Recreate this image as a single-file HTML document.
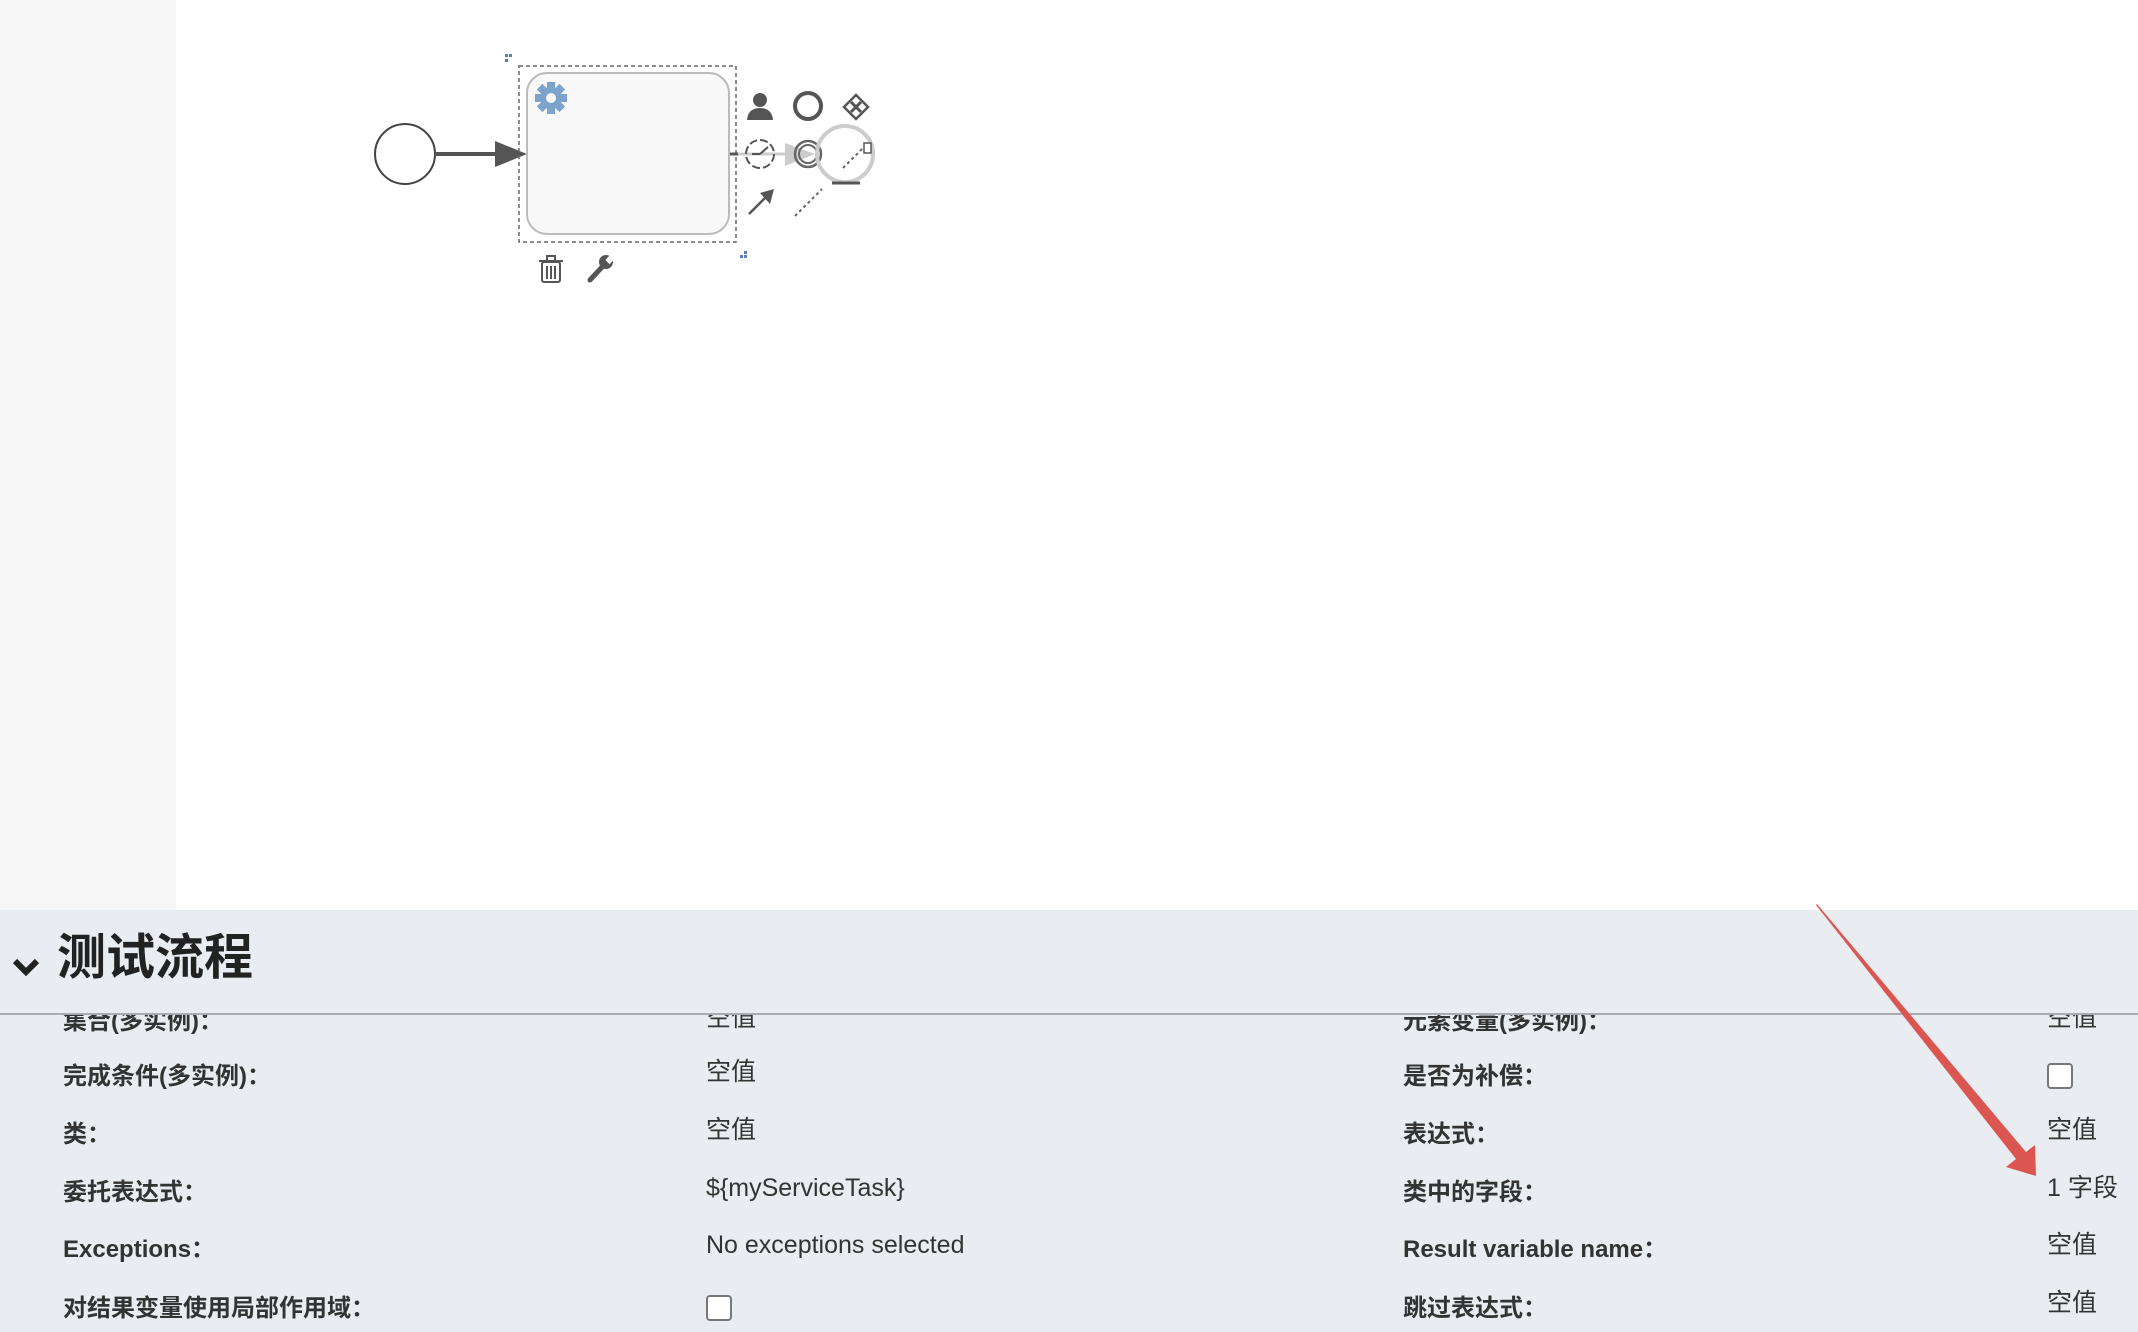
<!DOCTYPE html>
<html><head><meta charset="utf-8"><style>
html,body{margin:0;padding:0;width:2138px;height:1332px;overflow:hidden;background:#fff;position:relative}
body{font-family:"Liberation Sans","Noto Sans CJK SC",sans-serif;}
.side{position:absolute;left:0;top:0;width:176px;height:910px;background:#f6f6f6}
.panel{position:absolute;left:0;top:910px;width:2138px;height:422px;background:#e9ecf1}
.hdr{position:absolute;left:57px;top:928px;font-size:49px;font-weight:bold;color:#222;line-height:60px}
.line{position:absolute;left:0;top:1013px;width:2138px;height:2px;background:#a8abb4}
.body{position:absolute;left:0;top:1015px;width:2138px;height:317px;overflow:hidden}
.l{position:absolute;font-size:24px;font-weight:bold;color:#333;line-height:30px;white-space:nowrap}
.v{position:absolute;font-size:25px;color:#333;line-height:30px;white-space:nowrap}
.cb{position:absolute;width:22px;height:22px;border:2px solid #777;border-radius:4px;background:#fff}
</style></head><body>
<div class="side"></div>
<svg style="position:absolute;left:0;top:0" width="2138" height="910">
<circle cx="405" cy="154" r="30" fill="#fff" stroke="#444" stroke-width="2"/>
<line x1="435" y1="154" x2="498" y2="154" stroke="#555" stroke-width="4"/>
<polygon points="495,141 527,154 495,167" fill="#555"/>
<rect x="527" y="73" width="202" height="161" rx="20" fill="#f8f8f8" stroke="#bbb" stroke-width="2"/>
<rect x="519" y="66" width="217" height="176" fill="none" stroke="#666" stroke-width="1.5" stroke-dasharray="4,3"/>
<g transform="translate(551,98)" fill="#7ba3cb">
<circle r="11"/>
<g><rect x="-4" y="-16" width="8" height="32"/><rect x="-4" y="-16" width="8" height="32" transform="rotate(45)"/><rect x="-4" y="-16" width="8" height="32" transform="rotate(90)"/><rect x="-4" y="-16" width="8" height="32" transform="rotate(135)"/></g>
<circle r="5" fill="#f8f8f8"/></g>
<g fill="#5b7fb5"><rect x="505" y="54" width="3" height="3"/><rect x="509" y="54" width="3" height="3"/><rect x="505" y="59" width="3" height="3"/><rect x="744" y="251" width="3" height="3"/><rect x="744" y="255" width="3" height="3"/><rect x="740" y="255" width="3" height="3"/></g>
<g stroke="#555" fill="none" stroke-width="2"><rect x="542" y="262" width="18" height="20" rx="2"/><line x1="539" y1="261" x2="563" y2="261"/><rect x="547" y="256" width="8" height="5"/><line x1="547" y1="266" x2="547" y2="279"/><line x1="551" y1="266" x2="551" y2="279"/><line x1="555" y1="266" x2="555" y2="279"/></g>
<g stroke="#555" stroke-width="5" stroke-linecap="round"><line x1="590" y1="280" x2="603" y2="266"/></g>
<circle cx="606" cy="262" r="7" fill="#555"/><rect x="604" y="254" width="6" height="7" fill="#fff" transform="rotate(45 606 262)"/>
<g fill="#555"><circle cx="760" cy="100" r="7"/><path d="M747 120 Q748 108 760 108 Q772 108 773 120 Z"/></g>
<circle cx="808" cy="106" r="13" fill="none" stroke="#555" stroke-width="4"/>
<polygon points="856,95 868,107 856,119 844,107" fill="none" stroke="#555" stroke-width="2.5"/>
<g stroke="#555" stroke-width="3"><line x1="851" y1="102" x2="861" y2="112"/><line x1="861" y1="102" x2="851" y2="112"/></g>
<line x1="730" y1="154" x2="790" y2="154" stroke="#ccc" stroke-width="3"/>
<line x1="730" y1="154" x2="738" y2="154" stroke="#555" stroke-width="3"/>
<circle cx="760" cy="154" r="14" fill="none" stroke="#555" stroke-width="2" stroke-dasharray="8,3"/>
<line x1="760" y1="154" x2="768" y2="147" stroke="#555" stroke-width="2"/><line x1="760" y1="154" x2="752" y2="154" stroke="#555" stroke-width="2"/>
<polygon points="785,143 815,154 785,166" fill="#ccc"/>
<circle cx="808" cy="154" r="13" fill="none" stroke="#666" stroke-width="2.5"/><circle cx="808" cy="154" r="9" fill="none" stroke="#666" stroke-width="2"/>
<circle cx="845" cy="154" r="28" fill="none" stroke="#ccc" stroke-width="4"/>
<path d="M832 183 L860 183" stroke="#555" stroke-width="3"/>
<line x1="843" y1="168" x2="864" y2="147" stroke="#666" stroke-width="2" stroke-dasharray="3,3"/>
<rect x="864" y="143" width="7" height="10" fill="#fff" stroke="#555" stroke-width="1.5"/>
<line x1="749" y1="214" x2="768" y2="195" stroke="#555" stroke-width="2.5"/><polygon points="774,189 770,204 760,193" fill="#555"/>
<line x1="795" y1="216" x2="822" y2="189" stroke="#666" stroke-width="2" stroke-dasharray="3,3"/>
</svg>
<div class="panel"></div>
<svg style="position:absolute;left:12px;top:958px" width="30" height="20"><polyline points="3,3 14,14 25,3" fill="none" stroke="#222" stroke-width="6"/></svg>
<div class="hdr">测试流程</div>
<div class="line"></div>
<div class="body">
<div class="l" style="left:63px;top:-8px">集合(多实例)：</div>
<div class="v" style="left:706px;top:-12px">空值</div>
<div class="l" style="left:1403px;top:-8px">元素变量(多实例)：</div>
<div class="v" style="left:2047px;top:-12px">空值</div>

<div class="l" style="left:63px;top:47px">完成条件(多实例)：</div>
<div class="v" style="left:706px;top:42px">空值</div>
<div class="l" style="left:1403px;top:47px">是否为补偿：</div>
<div class="cb" style="left:2047px;top:48px"></div>

<div class="l" style="left:63px;top:105px">类：</div>
<div class="v" style="left:706px;top:100px">空值</div>
<div class="l" style="left:1403px;top:105px">表达式：</div>
<div class="v" style="left:2047px;top:100px">空值</div>

<div class="l" style="left:63px;top:163px">委托表达式：</div>
<div class="v" style="left:706px;top:158px">${myServiceTask}</div>
<div class="l" style="left:1403px;top:163px">类中的字段：</div>
<div class="v" style="left:2047px;top:158px">1 字段</div>

<div class="l" style="left:63px;top:220px">Exceptions：</div>
<div class="v" style="left:706px;top:215px">No exceptions selected</div>
<div class="l" style="left:1403px;top:220px">Result variable name：</div>
<div class="v" style="left:2047px;top:215px">空值</div>

<div class="l" style="left:63px;top:279px">对结果变量使用局部作用域：</div>
<div class="cb" style="left:706px;top:280px"></div>
<div class="l" style="left:1403px;top:279px">跳过表达式：</div>
<div class="v" style="left:2047px;top:273px">空值</div>
</div>
<svg style="position:absolute;left:0;top:0" width="2138" height="1332">
<polygon points="1817,904 2026,1152 2035,1145 2036,1176 2006,1167 2016,1159 1816,905" fill="#dc5651"/>
</svg>
</body></html>
